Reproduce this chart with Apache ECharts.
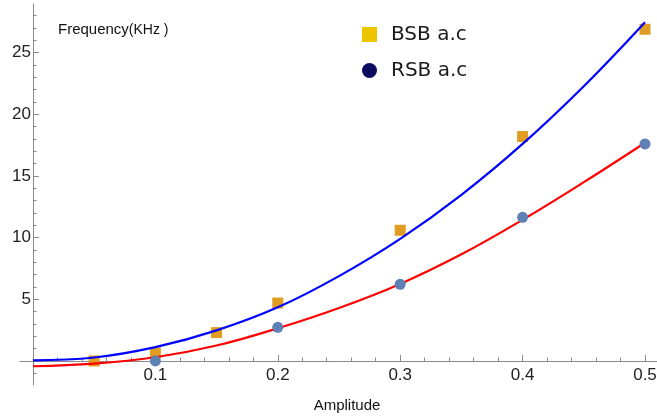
<!DOCTYPE html>
<html>
<head>
<meta charset="utf-8">
<script src="https://cdn.jsdelivr.net/npm/echarts@6/dist/echarts.min.js"></script>
<style>
  html, body { margin: 0; padding: 0; background: #fff; }
  #chart { width: 657px; height: 419px; }
</style>
</head>
<body>
<div id="chart"></div>
<script>
// Measured sideband frequencies (kHz) versus drive amplitude
const bsbX = [0.05, 0.1, 0.15, 0.2, 0.3, 0.4, 0.5];
const bsbY = [0.0, 0.65, 2.3, 4.7, 10.6, 18.2, 26.9];
const rsbX = [0.1, 0.2, 0.3, 0.4, 0.5];
const rsbY = [0.0, 2.73, 6.22, 11.65, 17.6];

// Fitted curves, sampled along the amplitude axis
const fitX = [0, 0.05, 0.1, 0.15, 0.2, 0.25, 0.3, 0.35, 0.4, 0.45, 0.5];
const bsbFit = [0.05, 0.28, 1.12, 2.48, 4.35, 6.88, 9.9, 13.47, 17.6, 22.28, 27.47];
const rsbFit = [-0.43, -0.22, 0.3, 1.25, 2.65, 4.3, 6.25, 8.65, 11.45, 14.5, 17.7];

// Tick positions
const xMajor = [0.1, 0.2, 0.3, 0.4, 0.5];
const xMinor = [0.02, 0.04, 0.06, 0.08, 0.12, 0.14, 0.16, 0.18, 0.22, 0.24, 0.26, 0.28,
                0.32, 0.34, 0.36, 0.38, 0.42, 0.44, 0.46, 0.48];
const yMajor = [5, 10, 15, 20, 25];
const yMinor = [-1, 1, 2, 3, 4, 6, 7, 8, 9, 11, 12, 13, 14, 16, 17, 18, 19,
                21, 22, 23, 24, 26, 27, 28];

const pairs = (xs, ys) => xs.map((x, i) => [x, ys[i]]);

const axisGray = '#8a8a8a';
const xRange = { min: -0.0106, max: 0.5098 };
const yRange = { min: -1.95, max: 28.95 };

const chart = echarts.init(document.getElementById('chart'), null, { renderer: 'canvas' });

chart.setOption({
  animation: false,
  backgroundColor: '#ffffff',
  grid: { left: 20, right: 0, top: 4, bottom: 34, containLabel: false, outerBoundsMode: 'none' },
  legend: {
    orient: 'vertical',
    left: 357,
    top: 19.5,
    itemWidth: 15,
    itemHeight: 15,
    itemGap: 16,
    selectedMode: false,
    textStyle: {
      fontFamily: 'DejaVu Sans',
      fontSize: 20,
      lineHeight: 19,
      color: '#1a1a1a',
      padding: [0, 0, 0, 9]
    },
    data: [
      { name: 'BSB a.c', icon: 'rect', itemStyle: { color: '#EDC600' } },
      { name: 'RSB a.c', icon: 'circle', itemStyle: { color: '#0B0B60' } }
    ]
  },
  xAxis: [
    {
      type: 'value',
      min: xRange.min,
      max: xRange.max,
      position: 'bottom',
      axisLine: { show: true, onZero: true, onZeroAxisIndex: 0, lineStyle: { color: axisGray, width: 1 } },
      axisTick: { show: true, inside: true, length: 6, customValues: xMajor, lineStyle: { color: axisGray } },
      axisLabel: {
        show: true,
        customValues: xMajor,
        margin: -18.5,
        fontFamily: 'Liberation Sans',
        fontSize: 17,
        color: '#222'
      },
      splitLine: { show: false },
      name: 'Amplitude',
      nameLocation: 'middle',
      nameGap: 13,
      nameMoveOverlap: false,
      nameTextStyle: {
        fontFamily: 'Liberation Sans',
        fontSize: 15,
        color: '#111',
        padding: [0, 0, 0, 17]
      }
    },
    {
      type: 'value',
      min: xRange.min,
      max: xRange.max,
      position: 'bottom',
      axisLine: { show: false, onZero: true, onZeroAxisIndex: 0 },
      axisTick: { show: true, inside: true, length: 3.5, customValues: xMinor, lineStyle: { color: axisGray } },
      axisLabel: { show: false },
      splitLine: { show: false }
    }
  ],
  yAxis: [
    {
      type: 'value',
      min: yRange.min,
      max: yRange.max,
      position: 'left',
      axisLine: { show: true, onZero: true, onZeroAxisIndex: 0, lineStyle: { color: axisGray, width: 1 } },
      axisTick: { show: true, inside: true, length: 6, customValues: yMajor, lineStyle: { color: axisGray } },
      axisLabel: {
        show: true,
        customValues: yMajor,
        margin: -11,
        fontFamily: 'Liberation Sans',
        fontSize: 17,
        color: '#222'
      },
      splitLine: { show: false },
      name: '{a|Frequency}{b|(KHz )}',
      nameLocation: 'end',
      nameGap: -26,
      nameMoveOverlap: false,
      nameTextStyle: {
        align: 'left',
        verticalAlign: 'middle',
        padding: [0, 0, 0, 25],
        rich: {
          a: { fontFamily: 'Liberation Sans', fontSize: 15, color: '#111' },
          b: { fontFamily: 'Liberation Sans', fontSize: 14, color: '#111' }
        }
      }
    },
    {
      type: 'value',
      min: yRange.min,
      max: yRange.max,
      position: 'left',
      axisLine: { show: false, onZero: true, onZeroAxisIndex: 0 },
      axisTick: { show: true, inside: true, length: 3.5, customValues: yMinor, lineStyle: { color: axisGray } },
      axisLabel: { show: false },
      splitLine: { show: false }
    }
  ],
  series: [
    {
      name: 'BSB a.c',
      type: 'scatter',
      symbol: 'rect',
      symbolSize: 11,
      itemStyle: { color: '#E19C24', opacity: 1 },
      data: pairs(bsbX, bsbY),
      z: 2
    },
    {
      name: 'BSB fit',
      type: 'line',
      smooth: 0.4,
      showSymbol: false,
      lineStyle: { color: '#0000FF', width: 2.2 },
      data: pairs(fitX, bsbFit),
      z: 3
    },
    {
      name: 'RSB fit',
      type: 'line',
      smooth: 0.4,
      showSymbol: false,
      lineStyle: { color: '#FF0000', width: 2.2 },
      data: pairs(fitX, rsbFit),
      z: 3
    },
    {
      name: 'RSB a.c',
      type: 'scatter',
      symbol: 'circle',
      symbolSize: 11,
      itemStyle: { color: '#5E81B5', opacity: 1 },
      data: pairs(rsbX, rsbY),
      z: 4
    }
  ]
});
</script>
</body>
</html>
